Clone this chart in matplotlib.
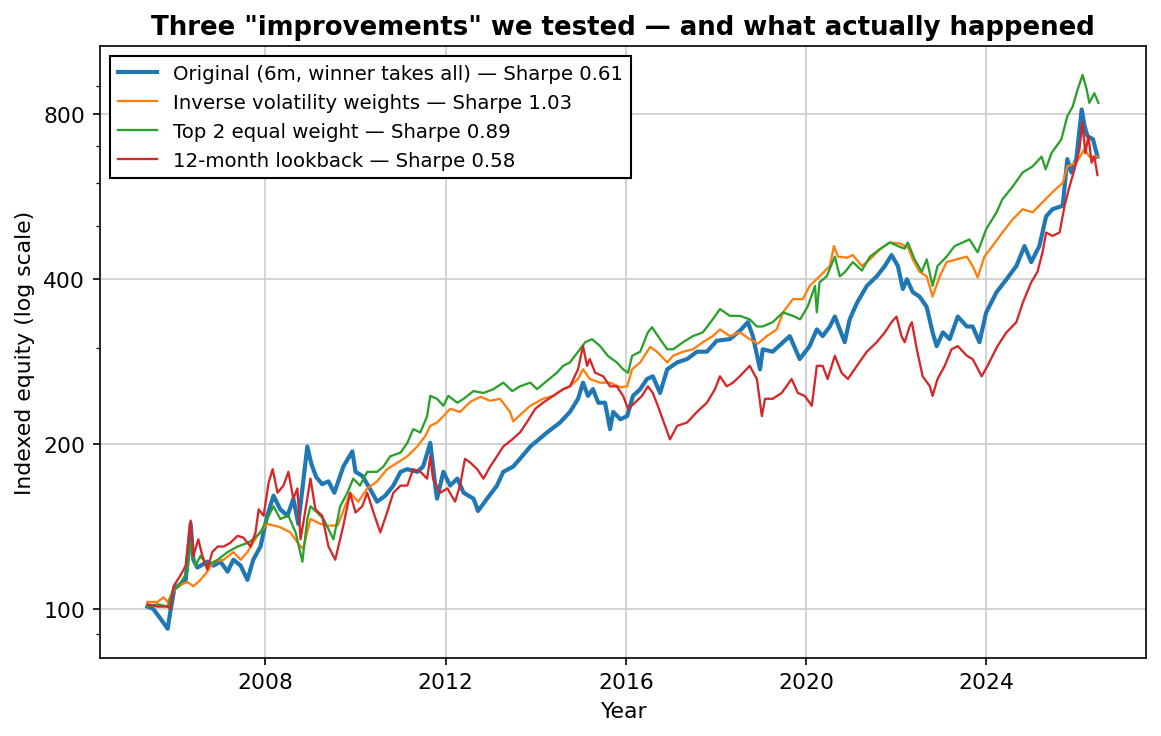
import numpy as np
import matplotlib
matplotlib.use("Agg")
import matplotlib.pyplot as plt
from matplotlib.ticker import FixedLocator, ScalarFormatter, NullFormatter

# equity curves (decimal year, indexed equity)
orig_t = [2005.38, 2005.51, 2005.67, 2005.83, 2005.89, 2005.98, 2006.11, 2006.23, 2006.34, 2006.40,
          2006.49, 2006.71, 2006.85, 2007.00, 2007.16, 2007.29, 2007.45, 2007.60, 2007.73, 2007.89,
          2008.04, 2008.18, 2008.33, 2008.49, 2008.62, 2008.73, 2008.93, 2009.02, 2009.13, 2009.26,
          2009.40, 2009.53, 2009.73, 2009.93, 2010.00, 2010.15, 2010.28, 2010.48, 2010.66, 2010.84,
          2011.00, 2011.15, 2011.37, 2011.50, 2011.66, 2011.77, 2011.81, 2011.95, 2012.10, 2012.26,
          2012.40, 2012.62, 2012.72, 2012.92, 2013.14, 2013.28, 2013.50, 2013.65, 2013.88, 2014.25,
          2014.54, 2014.76, 2014.94, 2015.05, 2015.16, 2015.27, 2015.39, 2015.54, 2015.65, 2015.72,
          2015.88, 2016.03, 2016.16, 2016.32, 2016.47, 2016.60, 2016.76, 2016.92, 2017.14, 2017.36,
          2017.58, 2017.80, 2018.02, 2018.31, 2018.53, 2018.71, 2018.82, 2018.98, 2019.04, 2019.26,
          2019.49, 2019.64, 2019.86, 2020.08, 2020.24, 2020.37, 2020.53, 2020.64, 2020.75, 2020.86,
          2020.97, 2021.13, 2021.35, 2021.57, 2021.75, 2021.90, 2022.04, 2022.15, 2022.24, 2022.37,
          2022.52, 2022.68, 2022.81, 2022.90, 2023.04, 2023.19, 2023.37, 2023.57, 2023.70, 2023.85,
          2024.00, 2024.23, 2024.45, 2024.67, 2024.85, 2025.00, 2025.18, 2025.33, 2025.47, 2025.70,
          2025.80, 2025.89, 2026.00, 2026.12, 2026.18, 2026.25, 2026.37, 2026.47]
orig_v = [101, 100, 96, 92, 99, 109, 111, 113, 143, 123,
          119, 122, 120, 122, 117, 123, 120, 113, 123, 130,
          148, 161, 152, 148, 159, 143, 198, 184, 174, 169,
          171, 163, 182, 194, 178, 175, 168, 157, 161, 168,
          178, 180, 178, 182, 201, 168, 159, 178, 168, 173,
          163, 159, 151, 159, 168, 178, 182, 188, 198, 210,
          219, 229, 242, 259, 245, 252, 238, 238, 213, 229,
          222, 225, 245, 252, 263, 266, 248, 274, 282, 286,
          295, 295, 309, 311, 322, 334, 315, 274, 298, 295,
          307, 315, 286, 302, 324, 315, 328, 342, 324, 307,
          338, 362, 389, 405, 423, 443, 423, 384, 400, 379,
          372, 356, 320, 302, 320, 311, 342, 328, 328, 307,
          348, 379, 400, 423, 460, 430, 460, 521, 537, 545,
          663, 627, 663, 817, 764, 730, 721, 670]

invvol_t = [2005.38, 2005.60, 2005.74, 2005.83, 2005.94, 2006.05, 2006.27, 2006.40, 2006.56, 2006.71,
            2006.85, 2007.07, 2007.29, 2007.45, 2007.60, 2007.82, 2008.04, 2008.33, 2008.55, 2008.78,
            2008.84, 2009.00, 2009.22, 2009.37, 2009.60, 2009.66, 2009.88, 2010.06, 2010.26, 2010.48,
            2010.70, 2010.93, 2011.15, 2011.37, 2011.55, 2011.66, 2011.81, 2011.95, 2012.10, 2012.32,
            2012.55, 2012.77, 2012.99, 2013.21, 2013.43, 2013.50, 2013.65, 2013.88, 2014.16, 2014.39,
            2014.61, 2014.76, 2014.94, 2015.05, 2015.20, 2015.43, 2015.65, 2015.88, 2016.03, 2016.14,
            2016.32, 2016.54, 2016.69, 2016.92, 2017.05, 2017.27, 2017.49, 2017.71, 2017.93, 2018.09,
            2018.31, 2018.53, 2018.75, 2018.93, 2019.13, 2019.35, 2019.49, 2019.71, 2019.93, 2020.08,
            2020.30, 2020.53, 2020.62, 2020.71, 2020.91, 2021.04, 2021.24, 2021.42, 2021.64, 2021.86,
            2022.08, 2022.26, 2022.37, 2022.52, 2022.68, 2022.81, 2022.97, 2023.12, 2023.34, 2023.57,
            2023.70, 2023.81, 2023.96, 2024.14, 2024.36, 2024.59, 2024.81, 2025.03, 2025.25, 2025.47,
            2025.70, 2025.80, 2026.00, 2026.18, 2026.29, 2026.47]
invvol_v = [103, 103, 105, 103, 107, 110, 112, 110, 113, 117,
            122, 123, 127, 123, 127, 136, 143, 141, 138, 130,
            129, 146, 143, 142, 142, 146, 163, 157, 166, 171,
            180, 185, 190, 198, 207, 216, 219, 225, 232, 229,
            239, 244, 240, 242, 229, 220, 226, 235, 242, 245,
            252, 255, 263, 274, 263, 259, 259, 254, 255, 274,
            282, 301, 295, 282, 290, 295, 298, 307, 315, 324,
            315, 320, 311, 305, 315, 324, 348, 368, 368, 389,
            405, 423, 460, 440, 438, 443, 423, 435, 454, 467,
            465, 458, 435, 413, 405, 372, 405, 430, 435, 440,
            423, 403, 440, 460, 487, 515, 537, 530, 553, 577,
            600, 643, 653, 691, 670, 670]

top2_t = [2005.38, 2005.60, 2005.83, 2005.94, 2006.07, 2006.27, 2006.34, 2006.45, 2006.56, 2006.71,
          2006.94, 2007.16, 2007.38, 2007.60, 2007.73, 2007.89, 2008.04, 2008.18, 2008.33, 2008.51,
          2008.67, 2008.82, 2008.93, 2009.00, 2009.15, 2009.29, 2009.51, 2009.66, 2009.82, 2009.95,
          2010.10, 2010.26, 2010.48, 2010.62, 2010.77, 2011.00, 2011.15, 2011.28, 2011.44, 2011.59,
          2011.66, 2011.81, 2011.95, 2012.06, 2012.26, 2012.40, 2012.62, 2012.84, 2013.06, 2013.28,
          2013.48, 2013.65, 2013.88, 2014.03, 2014.25, 2014.47, 2014.61, 2014.76, 2014.94, 2015.10,
          2015.25, 2015.43, 2015.60, 2015.80, 2015.94, 2016.05, 2016.14, 2016.32, 2016.49, 2016.58,
          2016.76, 2016.92, 2017.05, 2017.27, 2017.49, 2017.71, 2017.93, 2018.09, 2018.31, 2018.53,
          2018.75, 2018.91, 2019.04, 2019.26, 2019.49, 2019.71, 2019.87, 2020.04, 2020.20, 2020.24,
          2020.30, 2020.46, 2020.64, 2020.75, 2020.86, 2021.04, 2021.24, 2021.42, 2021.64, 2021.86,
          2022.04, 2022.19, 2022.26, 2022.41, 2022.57, 2022.68, 2022.81, 2022.92, 2023.12, 2023.30,
          2023.48, 2023.63, 2023.81, 2024.00, 2024.23, 2024.36, 2024.59, 2024.81, 2025.03, 2025.23,
          2025.32, 2025.45, 2025.67, 2025.80, 2025.92, 2026.03, 2026.14, 2026.23, 2026.29, 2026.40,
          2026.49]
top2_v = [101, 102, 101, 108, 110, 117, 132, 120, 125, 120,
          123, 127, 130, 132, 134, 138, 146, 154, 146, 148,
          138, 122, 146, 154, 150, 146, 134, 154, 163, 173,
          168, 178, 178, 182, 190, 193, 201, 213, 210, 225,
          245, 242, 235, 245, 238, 242, 250, 248, 252, 259,
          250, 255, 259, 252, 261, 270, 278, 282, 295, 307,
          311, 302, 290, 282, 274, 270, 290, 295, 320, 327,
          311, 298, 298, 307, 315, 320, 338, 353, 343, 343,
          338, 328, 328, 334, 348, 343, 338, 357, 389, 348,
          395, 405, 440, 405, 412, 430, 415, 440, 454, 467,
          460, 455, 467, 435, 413, 435, 389, 423, 440, 460,
          467, 473, 448, 494, 530, 560, 591, 627, 643, 670,
          635, 680, 721, 794, 827, 889, 945, 889, 840, 875,
          840]

lb12_t = [2005.38, 2005.60, 2005.83, 2005.89, 2005.96, 2006.11, 2006.23, 2006.34, 2006.40, 2006.51,
          2006.60, 2006.71, 2006.82, 2006.94, 2007.07, 2007.22, 2007.38, 2007.51, 2007.67, 2007.78,
          2007.85, 2007.96, 2008.07, 2008.16, 2008.27, 2008.40, 2008.51, 2008.62, 2008.71, 2008.78,
          2008.89, 2009.00, 2009.11, 2009.26, 2009.40, 2009.55, 2009.73, 2009.88, 2010.00, 2010.15,
          2010.26, 2010.40, 2010.55, 2010.70, 2010.84, 2011.00, 2011.15, 2011.28, 2011.44, 2011.59,
          2011.66, 2011.72, 2011.88, 2012.04, 2012.21, 2012.32, 2012.43, 2012.55, 2012.70, 2012.84,
          2012.99, 2013.14, 2013.28, 2013.48, 2013.65, 2013.80, 2013.99, 2014.16, 2014.39, 2014.61,
          2014.76, 2014.94, 2015.05, 2015.14, 2015.20, 2015.32, 2015.50, 2015.65, 2015.80, 2015.94,
          2016.05, 2016.20, 2016.36, 2016.49, 2016.60, 2016.71, 2016.82, 2016.98, 2017.14, 2017.36,
          2017.58, 2017.80, 2017.98, 2018.09, 2018.24, 2018.38, 2018.53, 2018.75, 2018.91, 2019.02,
          2019.09, 2019.26, 2019.46, 2019.68, 2019.82, 2019.97, 2020.13, 2020.24, 2020.37, 2020.48,
          2020.64, 2020.79, 2020.93, 2021.13, 2021.35, 2021.57, 2021.75, 2021.90, 2022.01, 2022.12,
          2022.19, 2022.30, 2022.35, 2022.46, 2022.59, 2022.75, 2022.81, 2022.92, 2023.08, 2023.23,
          2023.37, 2023.57, 2023.70, 2023.90, 2024.03, 2024.25, 2024.45, 2024.67, 2024.81, 2025.00,
          2025.14, 2025.25, 2025.33, 2025.47, 2025.63, 2025.74, 2025.85, 2025.96, 2026.07, 2026.14,
          2026.20, 2026.27, 2026.34, 2026.40, 2026.47]
lb12_v = [102, 101, 101, 100, 110, 115, 120, 145, 125, 134,
          125, 118, 127, 130, 130, 132, 136, 135, 130, 138,
          152, 148, 170, 180, 163, 168, 178, 159, 166, 134,
          152, 173, 152, 148, 130, 123, 142, 163, 150, 154,
          163, 150, 138, 150, 163, 168, 168, 180, 178, 173,
          190, 173, 163, 166, 157, 168, 188, 185, 180, 173,
          182, 190, 198, 204, 210, 219, 232, 238, 245, 252,
          255, 274, 302, 278, 286, 270, 266, 255, 255, 245,
          232, 238, 245, 255, 248, 235, 222, 204, 216, 219,
          229, 238, 252, 266, 255, 259, 266, 278, 263, 225,
          242, 242, 248, 263, 248, 245, 235, 278, 278, 263,
          290, 270, 263, 278, 295, 307, 320, 334, 342, 315,
          307, 328, 334, 298, 266, 255, 245, 263, 278, 298,
          302, 290, 286, 266, 278, 302, 320, 334, 362, 395,
          413, 448, 487, 480, 487, 545, 591, 635, 691, 774,
          680, 730, 653, 670, 620]

labels = ["Original (6m, winner takes all) \u2014 Sharpe 0.61",
          "Inverse volatility weights \u2014 Sharpe 1.03",
          "Top 2 equal weight \u2014 Sharpe 0.89",
          "12-month lookback \u2014 Sharpe 0.58"]


def main():
    fig, ax = plt.subplots(figsize=(7.74, 4.913), dpi=150)
    fig.subplots_adjust(left=0.086, right=0.987, top=0.936, bottom=0.106)

    ax.plot(orig_t, orig_v, color="#1f77b4", lw=2.0, label=labels[0])
    ax.plot(invvol_t, invvol_v, color="#ff7f0e", lw=1.1, label=labels[1])
    ax.plot(top2_t, top2_v, color="#2ca02c", lw=1.1, label=labels[2])
    ax.plot(lb12_t, lb12_v, color="#d62728", lw=1.1, label=labels[3])

    ax.set_yscale("log")
    ax.set_ylim(81.4, 1066)
    ax.yaxis.set_major_locator(FixedLocator([100, 200, 400, 800]))
    ax.yaxis.set_major_formatter(ScalarFormatter())
    ax.yaxis.set_minor_formatter(NullFormatter())
    ax.set_xticks([2008, 2012, 2016, 2020, 2024])

    ax.grid(True, which="major", color="#cccccc", lw=0.8)
    ax.set_axisbelow(True)
    ax.tick_params(labelsize=10.5)

    ax.set_title('Three "improvements" we tested \u2014 and what actually happened',
                 fontsize=12.5, fontweight="bold")
    ax.set_xlabel("Year", fontsize=10.5)
    ax.set_ylabel("Indexed equity (log scale)", fontsize=10.5)

    leg = ax.legend(loc="upper left", fontsize=9.5, fancybox=False, framealpha=1)
    leg.get_frame().set_edgecolor("black")
    leg.get_frame().set_linewidth(1.0)

    fig.savefig("out.png", dpi=150)


if __name__ == "__main__":
    main()
